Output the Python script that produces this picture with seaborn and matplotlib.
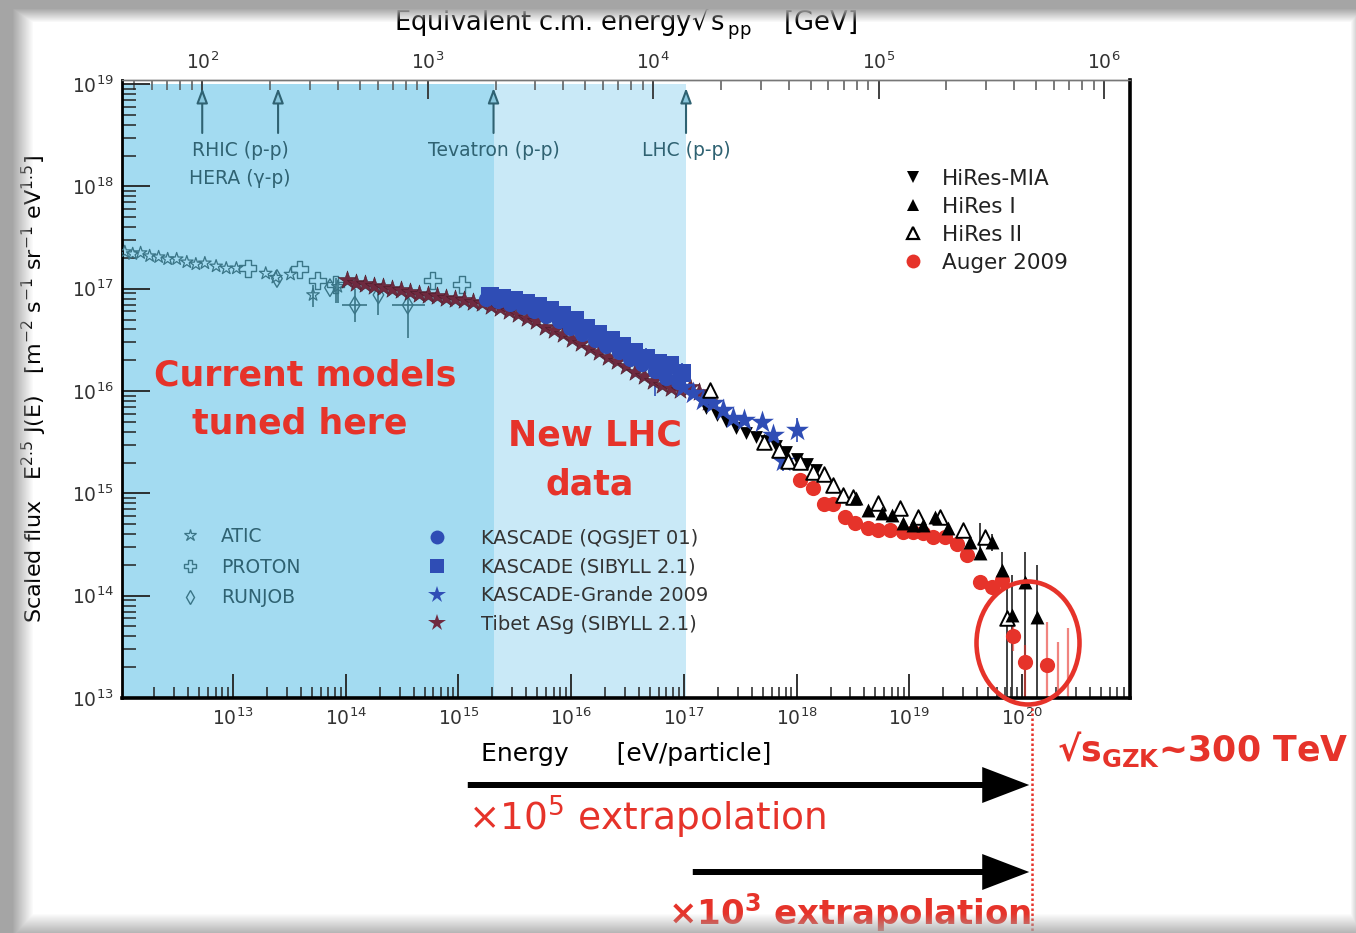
import numpy as np
import pandas as pd
import matplotlib
matplotlib.use("Agg")
import matplotlib.pyplot as plt
import seaborn as sns
from matplotlib.lines import Line2D
from matplotlib.patches import Ellipse, FancyArrowPatch
from matplotlib.ticker import FixedLocator, NullFormatter, LogFormatterSciNotation

# ---------------- data: log10(E / eV) and log10(E^2.5 J(E)) ----------------
ATIC_LOGE = [12.04, 12.11, 12.18, 12.26, 12.34, 12.42, 12.50, 12.59, 12.67, 12.75,
             12.85, 12.94, 13.03, 13.29, 13.38, 13.51, 13.71, 13.93]
ATIC_LOGF = [17.36, 17.34, 17.35, 17.32, 17.31, 17.29, 17.29, 17.26, 17.24, 17.25,
             17.22, 17.20, 17.20, 17.15, 17.11, 17.14, 16.94, 17.02]
ATIC_BAR_LOGE = [13.71, 13.93]
ATIC_BAR_LO = [16.82, 16.86]
ATIC_BAR_HI = [17.04, 17.08]

PROTON_LOGE = [13.13, 13.59, 13.75, 13.91, 14.77, 15.03]
PROTON_LOGF = [17.20, 17.19, 17.08, 17.04, 17.08, 17.04]
PROTON_BAR_LOGE = [13.91]
PROTON_BAR_LO = [16.86]
PROTON_BAR_HI = [17.10]

RUNJOB_LOGE = [13.39, 13.86, 14.08, 14.29, 14.55]
RUNJOB_LOGF = [17.10, 17.01, 16.84, 16.94, 16.84]
RUNJOB_BAR_LOGE = [14.08, 14.29, 14.55]
RUNJOB_BAR_LO = [16.67, 16.74, 16.52]
RUNJOB_BAR_HI = [17.00, 16.97, 16.96]
RUNJOB_HBAR_LOGF = [16.84, 16.84]
RUNJOB_HBAR_LEFT = [13.97, 14.41]
RUNJOB_HBAR_RIGHT = [14.19, 14.70]

TIBET_LOGE = [14.01, 14.09, 14.17, 14.25, 14.33, 14.41, 14.49, 14.57, 14.65, 14.73,
              14.81, 14.89, 14.97, 15.05, 15.13, 15.21, 15.29, 15.37, 15.45, 15.53,
              15.61, 15.69, 15.77, 15.85, 15.93, 16.01, 16.09, 16.17, 16.25, 16.33,
              16.41, 16.49, 16.57, 16.65, 16.73, 16.81, 16.89, 16.97, 17.05, 17.13, 17.21]
TIBET_LOGF = [17.09, 17.06, 17.05, 17.03, 17.02, 17.00, 16.99, 16.97, 16.95, 16.94,
              16.93, 16.91, 16.90, 16.89, 16.87, 16.86, 16.83, 16.81, 16.78, 16.75,
              16.71, 16.68, 16.63, 16.60, 16.56, 16.51, 16.47, 16.42, 16.38, 16.33,
              16.29, 16.24, 16.19, 16.15, 16.10, 16.06, 16.03, 16.01, 16.04, 15.99, 15.89]

KQ_LOGE = [15.24, 15.35, 15.46, 15.57, 15.67, 15.78, 15.89, 15.99, 16.10, 16.21,
           16.31, 16.42, 16.52, 16.63, 16.74, 16.84, 16.95]
KQ_LOGF = [16.90, 16.88, 16.85, 16.82, 16.78, 16.73, 16.68, 16.62, 16.56, 16.50,
           16.44, 16.38, 16.31, 16.26, 16.20, 16.13, 16.09]
KQ_BAR_LOGE = [16.74, 16.95]
KQ_BAR_LO = [15.95, 15.98]
KQ_BAR_HI = [16.10, 16.20]

KS_LOGE = [15.28, 15.39, 15.49, 15.60, 15.71, 15.81, 15.92, 16.03, 16.13, 16.24,
           16.35, 16.45, 16.56, 16.66, 16.77, 16.88, 16.98]
KS_LOGF = [16.93, 16.91, 16.89, 16.86, 16.83, 16.79, 16.74, 16.69, 16.62, 16.56,
           16.50, 16.44, 16.38, 16.32, 16.27, 16.25, 16.18]
KS_BAR_LOGE = [16.66, 16.77, 16.88, 16.98]
KS_BAR_LO = [16.20, 16.12, 16.15, 16.08]
KS_BAR_HI = [16.42, 16.36, 16.33, 16.27]

KG_LOGE = [16.99, 17.08, 17.17, 17.26, 17.35, 17.44, 17.53, 17.69, 17.79, 17.88, 18.00]
KG_LOGF = [16.04, 15.98, 15.91, 15.88, 15.81, 15.74, 15.72, 15.70, 15.57, 15.32, 15.62]
KG_BAR_LOGE = [17.88, 18.00]
KG_BAR_LO = [15.22, 15.50]
KG_BAR_HI = [15.42, 15.74]

MIA_LOGE = [17.20, 17.29, 17.37, 17.46, 17.55, 17.64, 17.73, 17.82, 17.91, 18.00, 18.09, 18.17]
MIA_LOGF = [15.83, 15.77, 15.71, 15.64, 15.59, 15.55, 15.51, 15.46, 15.40, 15.34, 15.29, 15.23]

HIRES2_LOGE = [17.23, 17.71, 17.84, 17.92, 18.03, 18.15, 18.24, 18.32, 18.41, 18.50,
               18.72, 18.92, 19.08, 19.27, 19.48, 19.67, 19.87]
HIRES2_LOGF = [16.01, 15.50, 15.42, 15.32, 15.31, 15.21, 15.19, 15.08, 14.98, 14.96,
               14.91, 14.86, 14.77, 14.77, 14.64, 14.57, 13.78]
HIRES2_BAR_LOGE = [19.87]
HIRES2_BAR_LO = [12.90]
HIRES2_BAR_HI = [14.10]

HIRES1_LOGE = [18.53, 18.63, 18.76, 18.85, 18.94, 19.03, 19.12, 19.23, 19.34, 19.54,
               19.63, 19.73, 19.82, 19.91, 20.03, 20.13]
HIRES1_LOGF = [14.95, 14.84, 14.81, 14.79, 14.71, 14.69, 14.69, 14.77, 14.66, 14.52,
               14.42, 14.52, 14.25, 13.81, 14.13, 13.79]
HIRES1_BAR_LOGE = [19.63, 19.73, 19.82, 19.91, 20.03, 20.13]
HIRES1_BAR_LO = [14.38, 14.44, 14.15, 12.90, 12.90, 12.90]
HIRES1_BAR_HI = [14.71, 14.60, 14.43, 14.20, 14.43, 14.30]

AUGER_LOGE = [18.03, 18.15, 18.24, 18.32, 18.43, 18.52, 18.63, 18.72, 18.83, 18.94,
              19.03, 19.12, 19.21, 19.32, 19.42, 19.51, 19.63, 19.73, 19.82, 19.92,
              20.03, 20.22]
AUGER_LOGF = [15.13, 15.05, 14.90, 14.90, 14.77, 14.71, 14.66, 14.64, 14.64, 14.62,
              14.62, 14.61, 14.57, 14.57, 14.51, 14.40, 14.13, 14.08, 14.15, 13.61,
              13.35, 13.32]
AUGER_BAR_LOGE = [19.92, 20.03, 20.22, 20.32, 20.41]
AUGER_BAR_LO = [13.46, 12.90, 12.90, 12.90, 12.90]
AUGER_BAR_HI = [13.76, 13.52, 13.74, 13.55, 13.68]

# collider c.m. energies [GeV]
COLLIDER_SQRTS = [100, 217, 1960, 14000]

# axis decades: labelled majors and the decades that carry minor ticks
X_MAJOR = list(range(13, 21))
X_MINOR = list(range(12, 21))
Y_MAJOR = list(range(13, 20))
Y_MINOR = list(range(13, 19))
TOP_MAJOR = list(range(2, 7))
TOP_MINOR = list(range(1, 7))

# ---------------- style ----------------
sns.set_theme(style="ticks")
plt.rcParams["font.family"] = ["DejaVu Sans"]
plt.rcParams["mathtext.default"] = "regular"

RED = "#e6332a"
TEAL = "#2f6272"
TEAL_M = "#3a7587"
BLUE = "#2f4db5"
MAROON = "#6f2a40"
DARK_BAND = "#a3dbf1"
LIGHT_BAND = "#c9e9f7"

W, H = 1356, 933
fig = plt.figure(figsize=(W / 100, H / 100), dpi=100, facecolor="white")
ax = fig.add_axes([122 / W, 1 - 698 / H, 1008 / W, 618 / H])
ax.set_facecolor("none")
ax.set_xscale("log")
ax.set_yscale("log")
XMIN, XMAX = 10 ** 12.015, 10 ** 20.958
YMIN, YMAX = 1e13, 10 ** 19.04
ax.set_xlim(XMIN, XMAX)
ax.set_ylim(YMIN, YMAX)

MP2 = 2 * 0.938  # 2 m_p [GeV]


def energy_to_sqrts(e):
    e = np.maximum(np.asarray(e, dtype=float), 1e-30)
    return np.sqrt(MP2 * e * 1e-9)


def sqrts_to_energy(s):
    s = np.asarray(s, dtype=float)
    return s ** 2 / MP2 * 1e9


def px(x, y):
    return (x / W, 1 - y / H)


def ay(y):
    """vertical pixel position -> axes fraction"""
    return (698 - y) / 618


# shaded energy ranges: below Tevatron, and Tevatron -> LHC
E_COLL = sqrts_to_energy(COLLIDER_SQRTS)
top_frac = (19 - 13) / (np.log10(YMAX) - 13)
ax.axvspan(XMIN, E_COLL[2], ymin=0, ymax=top_frac, color=DARK_BAND, lw=0, zorder=0)
ax.axvspan(E_COLL[2], E_COLL[3], ymin=0, ymax=top_frac, color=LIGHT_BAND, lw=0, zorder=0)


def bars(loge, lo, hi, color, lw=1.2, alpha=1.0, z=2):
    ax.vlines(np.power(10.0, loge), np.power(10.0, lo), np.power(10.0, hi),
              color=color, lw=lw, alpha=alpha, zorder=z)


def points(loge, logf, z=3, **kw):
    df = pd.DataFrame({"E": np.power(10.0, loge), "F": np.power(10.0, logf)})
    sns.scatterplot(data=df, x="E", y="F", ax=ax, legend=False, zorder=z, **kw)


# low-energy direct measurements
bars(ATIC_BAR_LOGE, ATIC_BAR_LO, ATIC_BAR_HI, TEAL_M)
bars(PROTON_BAR_LOGE, PROTON_BAR_LO, PROTON_BAR_HI, TEAL_M)
bars(RUNJOB_BAR_LOGE, RUNJOB_BAR_LO, RUNJOB_BAR_HI, TEAL_M)
ax.hlines(np.power(10.0, RUNJOB_HBAR_LOGF), np.power(10.0, RUNJOB_HBAR_LEFT),
          np.power(10.0, RUNJOB_HBAR_RIGHT), color=TEAL_M, lw=1.2, zorder=2)
points(ATIC_LOGE, ATIC_LOGF, marker="*", s=90, facecolor="none", edgecolor=TEAL_M, linewidth=0.9)
points(PROTON_LOGE, PROTON_LOGF, marker="P", s=150, facecolor="none", edgecolor=TEAL_M, linewidth=1.0)
points(RUNJOB_LOGE, RUNJOB_LOGF, marker="d", s=80, facecolor="none", edgecolor=TEAL_M, linewidth=1.0)

# air-shower measurements around the knee
points(TIBET_LOGE, TIBET_LOGF, marker="*", s=190, color=MAROON, edgecolor="#4a1a28", linewidth=0.4, z=3)
bars(KQ_BAR_LOGE, KQ_BAR_LO, KQ_BAR_HI, BLUE)
points(KQ_LOGE, KQ_LOGF, marker="o", s=120, color=BLUE, edgecolor=BLUE, linewidth=0, z=4)
bars(KS_BAR_LOGE, KS_BAR_LO, KS_BAR_HI, BLUE, z=4)
points(KS_LOGE, KS_LOGF, marker="s", s=170, color=BLUE, edgecolor=BLUE, linewidth=0, z=5)
bars(KG_BAR_LOGE, KG_BAR_LO, KG_BAR_HI, BLUE, z=6)
points(KG_LOGE, KG_LOGF, marker="*", s=300, color=BLUE, edgecolor=BLUE, linewidth=0, z=7)

# ultra-high-energy measurements
bars(HIRES2_BAR_LOGE, HIRES2_BAR_LO, HIRES2_BAR_HI, "#333333", lw=1.3)
bars(HIRES1_BAR_LOGE, HIRES1_BAR_LO, HIRES1_BAR_HI, "#333333", lw=1.3)
bars(AUGER_BAR_LOGE, AUGER_BAR_LO, AUGER_BAR_HI, RED, lw=1.6, alpha=0.6)
points(MIA_LOGE, MIA_LOGF, marker="v", s=85, color="black", edgecolor="black", linewidth=0, z=6)
points(AUGER_LOGE, AUGER_LOGF, marker="o", s=120, color=RED, edgecolor=RED, linewidth=0, z=6)
points(HIRES2_LOGE, HIRES2_LOGF, marker="^", s=110, facecolor="white", edgecolor="black", linewidth=1.4, z=7)
points(HIRES1_LOGE, HIRES1_LOGF, marker="^", s=100, color="black", edgecolor="black", linewidth=0, z=8)

# ---------------- axes, ticks ----------------
ax.set_xlabel("Energy      [eV/particle]", fontsize=18, color="black", labelpad=9)
ax.set_ylabel(r"Scaled flux   E$^{2.5}$ J(E)   [m$^{-2}$ s$^{-1}$ sr$^{-1}$ eV$^{1.5}$]",
              fontsize=16, color="black", labelpad=16)


def decade_ticks(axis, major, minor):
    axis.set_major_locator(FixedLocator([10.0 ** d for d in major]))
    axis.set_minor_locator(FixedLocator([m * 10.0 ** d for d in minor for m in range(2, 10)]))
    axis.set_major_formatter(LogFormatterSciNotation())
    axis.set_minor_formatter(NullFormatter())


decade_ticks(ax.xaxis, X_MAJOR, X_MINOR)
decade_ticks(ax.yaxis, Y_MAJOR, Y_MINOR)
ax.tick_params(axis="y", which="major", direction="in", length=20, width=1.3, left=True,
               right=False, labelsize=13.5, labelcolor="#333333", color="#222222", pad=6)
ax.tick_params(axis="y", which="minor", direction="in", length=10, width=1.1, left=True,
               right=False, color="#222222")
ax.tick_params(axis="x", which="major", direction="in", length=17, width=1.3, bottom=True,
               top=False, labelsize=13.5, labelcolor="#333333", color="#222222", pad=7)
ax.tick_params(axis="x", which="minor", direction="in", length=8, width=1.1, bottom=True,
               top=False, color="#222222")
for side, lw, col in (("left", 2.0, "black"), ("bottom", 2.6, "black"),
                      ("right", 2.6, "black"), ("top", 1.0, "#777777")):
    ax.spines[side].set_visible(True)
    ax.spines[side].set_linewidth(lw)
    ax.spines[side].set_color(col)

secax = ax.secondary_xaxis("top", functions=(energy_to_sqrts, sqrts_to_energy))
decade_ticks(secax.xaxis, TOP_MAJOR, TOP_MINOR)
secax.tick_params(which="major", direction="in", length=14, width=1.3, labelsize=13.5,
                  labelcolor="#333333", color="#333333", pad=5)
secax.tick_params(which="minor", direction="in", length=7, width=1.1, color="#555555")
secax.spines["top"].set_linewidth(1.0)
secax.spines["top"].set_color("#777777")
secax.set_xlabel(r"Equivalent c.m. energy$\sqrt{\mathregular{s}}_{\mathregular{pp}}$    [GeV]",
                 fontsize=18.5, color="black", labelpad=15)

# collider markers along the top
for e in E_COLL:
    ax.annotate("", xy=(e, ay(88)), xytext=(e, ay(133)),
                xycoords=("data", "axes fraction"), textcoords=("data", "axes fraction"),
                arrowprops=dict(arrowstyle="-|>,head_length=0.75,head_width=0.28",
                                edgecolor=TEAL, facecolor="#88c6dc", lw=1.5,
                                shrinkA=0, shrinkB=0))
xf = ax.get_xaxis_transform()
ax.text(np.sqrt(E_COLL[0] * E_COLL[1]), ay(150), "RHIC (p-p)", transform=xf,
        ha="center", va="center", fontsize=13.5, color=TEAL)
ax.text(np.sqrt(E_COLL[0] * E_COLL[1]), ay(178), "HERA (γ-p)", transform=xf,
        ha="center", va="center", fontsize=13.5, color=TEAL)
ax.text(E_COLL[2], ay(150), "Tevatron (p-p)", transform=xf,
        ha="center", va="center", fontsize=13.5, color=TEAL)
ax.text(E_COLL[3], ay(150), "LHC (p-p)", transform=xf,
        ha="center", va="center", fontsize=13.5, color=TEAL)

# ---------------- legends ----------------
def handle(marker, fc, ec, ms, mew=1.0):
    return Line2D([], [], ls="none", marker=marker, markerfacecolor=fc,
                  markeredgecolor=ec, markersize=ms, markeredgewidth=mew)


leg1 = ax.legend([handle("*", "none", TEAL_M, 9, 0.9), handle("P", "none", TEAL_M, 9),
                  handle("d", "none", TEAL_M, 7)],
                 ["ATIC", "PROTON", "RUNJOB"], loc="upper left",
                 bbox_to_anchor=(0.0581, ay(527)), frameon=False, fontsize=13.5,
                 labelcolor=TEAL, handlelength=1.0, handletextpad=1.15,
                 labelspacing=0.62, borderpad=0, borderaxespad=0)
ax.add_artist(leg1)
leg2 = ax.legend([handle("o", BLUE, BLUE, 10, 0), handle("s", BLUE, BLUE, 10, 0),
                  handle("*", BLUE, BLUE, 13, 0), handle("*", MAROON, MAROON, 13, 0)],
                 ["KASCADE (QGSJET 01)", "KASCADE (SIBYLL 2.1)", "KASCADE-Grande 2009",
                  "Tibet ASg (SIBYLL 2.1)"], loc="upper left",
                 bbox_to_anchor=(0.3029, ay(529)), frameon=False, fontsize=14,
                 labelcolor="#333333", handlelength=1.0, handletextpad=1.77,
                 labelspacing=0.5, borderpad=0, borderaxespad=0)
ax.add_artist(leg2)
ax.legend([handle("v", "black", "black", 9, 0), handle("^", "black", "black", 9, 0),
           handle("^", "white", "black", 9, 1.6), handle("o", RED, RED, 10, 0)],
          ["HiRes-MIA", "HiRes I", "HiRes II", "Auger 2009"], loc="upper left",
          bbox_to_anchor=(0.7737, ay(169)), frameon=False, fontsize=15.5,
          labelcolor="#222222", handlelength=1.0, handletextpad=0.85,
          labelspacing=0.37, borderpad=0, borderaxespad=0)

# ---------------- annotations ----------------
for txt, x0, y0 in (("Current models", 305, 375), ("tuned here", 300, 423),
                    ("New LHC", 595, 435), ("data", 590, 485)):
    fig.text(*px(x0, y0), txt, ha="center", va="center", fontsize=25,
             fontweight="bold", color=RED, zorder=20)

fig.add_artist(Ellipse(px(1028, 643), 103 / W, 123 / H, transform=fig.transFigure,
                       fill=False, edgecolor=RED, lw=3.3, zorder=20))
fig.add_artist(Line2D([1032 / W, 1032 / W], [1 - 703 / H, 0], transform=fig.transFigure,
                      color=RED, lw=1.8, ls=(0, (1.0, 1.0)), zorder=20))

for x0, y0 in ((465, 785), (690, 872)):
    fig.add_artist(FancyArrowPatch(px(x0, y0), px(1032, y0), transform=fig.transFigure,
                                   arrowstyle="simple,head_length=0.47,head_width=0.36,tail_width=0.06",
                                   mutation_scale=72, color="black", lw=0, zorder=20))

fig.text(*px(468, 830), r"×10$^{5}$ extrapolation", ha="left", va="baseline",
         fontsize=27, color=RED, zorder=20)
fig.text(*px(668, 924), r"×10$^{3}$ extrapolation", ha="left", va="baseline",
         fontsize=24.5, fontweight="bold", color=RED, zorder=20)
fig.text(*px(1057, 761), r"√s$_{GZK}$~300 TeV", ha="left", va="baseline",
         fontsize=25, fontweight="bold", color=RED, zorder=20)

# ---------------- slide frame ----------------
yy, xx = np.mgrid[0:H, 0:W]
alpha = np.clip((33 - xx) / 21.0, 0, 1)
alpha = np.maximum(alpha, np.clip((22 - yy) / 14.0, 0, 1))
alpha = np.maximum(alpha, np.clip((yy - 913) / 20.0, 0, 1) * 0.85)
alpha = np.maximum(alpha, np.clip((xx - 1350) / 6.0, 0, 1) * 0.5)
rgba = np.zeros((H, W, 4))
rgba[..., :3] = 0.65
rgba[..., 3] = alpha
frame = fig.add_axes([0, 0, 1, 1], zorder=100)
frame.imshow(rgba, extent=[0, W, H, 0], aspect="auto", interpolation="nearest")
frame.set_xlim(0, W)
frame.set_ylim(H, 0)
frame.axis("off")

fig.savefig("out.png", dpi=100, facecolor="white")
